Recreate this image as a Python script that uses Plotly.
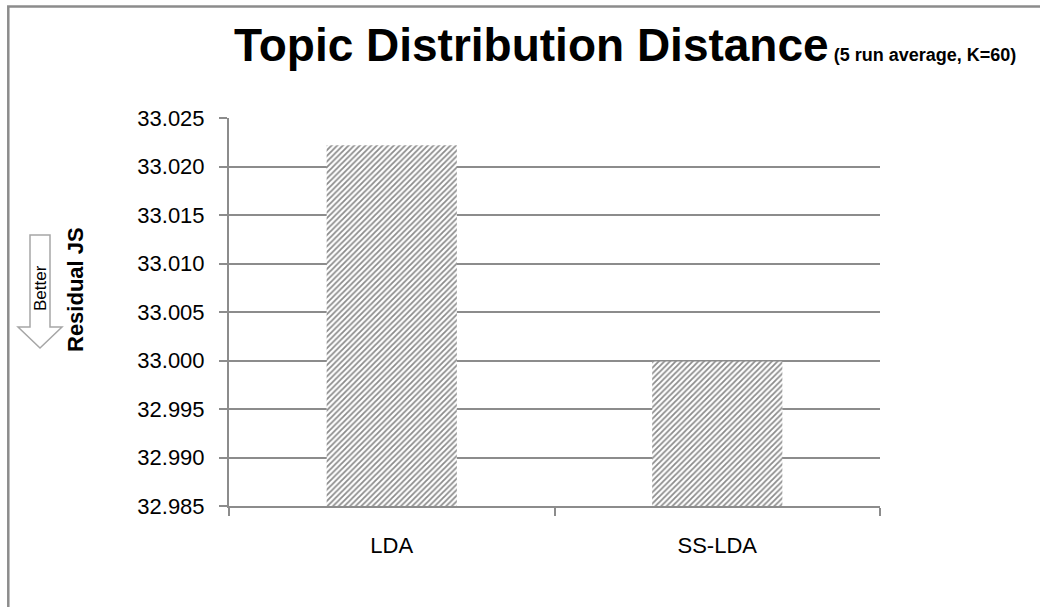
import plotly.graph_objects as go

# Data
categories = ["LDA", "SS-LDA"]
residual_js = [33.0222, 32.9999]
y_ticks = [32.985, 32.990, 32.995, 33.000, 33.005, 33.010, 33.015, 33.020, 33.025]

W, H = 1040, 607
ML, MR, MT, MB = 229, 160, 118, 101
PW, PH = W - ML - MR, H - MT - MB
FONT = "Liberation Sans"
GRAY = "#8c8c8c"


def px(x):
    return (x - ML) / PW


def py(y):
    return (H - MB - y) / PH


fig = go.Figure(
    go.Bar(
        x=categories,
        y=residual_js,
        marker=dict(
            color="white",
            line=dict(width=0),
            pattern=dict(shape="/", fgcolor="#1a1a1a", bgcolor="white",
                         size=4, solidity=0.45),
        ),
        hoverinfo="x+y",
    )
)

fig.update_layout(
    width=W, height=H,
    margin=dict(l=ML, r=MR, t=MT, b=MB),
    paper_bgcolor="white", plot_bgcolor="white",
    showlegend=False,
    bargap=0.6,
    font=dict(family=FONT, color="black"),
)

fig.update_yaxes(
    range=[y_ticks[0], y_ticks[-1] + 1e-7],
    tickvals=y_ticks,
    tickformat=".3f",
    tickfont=dict(size=22),
    ticklabelstandoff=10,
    showgrid=True, gridcolor=GRAY, gridwidth=1.5,
    showline=True, linecolor=GRAY, linewidth=2,
    ticks="outside", ticklen=8, tickcolor=GRAY, tickwidth=1.5,
    zeroline=False,
)
fig.update_xaxes(
    showline=True, linecolor=GRAY, linewidth=2,
    ticks="outside", ticklen=8, tickcolor=GRAY, tickwidth=1.5,
    tickson="boundaries",
    tickfont=dict(size=22),
    ticklabelstandoff=19,
)

# Chart-area border (left and top edges visible)
fig.add_shape(type="rect", xref="paper", yref="paper",
              x0=px(8.3), x1=px(1060), y0=py(620), y1=py(6.5),
              line=dict(color=GRAY, width=2.5), fillcolor="rgba(0,0,0,0)",
              layer="above")

# "Better" down arrow beside the axis title
arrow = [(30, 235), (50, 235), (50, 327), (62, 327), (40, 348),
         (18, 327), (30, 327)]
path = "M " + " L ".join(f"{px(x):.5f},{py(y):.5f}" for x, y in arrow) + " Z"
fig.add_shape(type="path", xref="paper", yref="paper", path=path,
              line=dict(color="#a6a6a6", width=1.5), fillcolor="white")
fig.add_annotation(xref="paper", yref="paper", x=px(40), y=py(288),
                   xanchor="center", yanchor="middle",
                   text="Better", textangle=-90, showarrow=False,
                   font=dict(size=17, family=FONT))

# Axis title
fig.add_annotation(xref="paper", yref="paper", x=px(75), y=py(290),
                   xanchor="center", yanchor="middle",
                   text="<b>Residual JS</b>", textangle=-90, showarrow=False,
                   font=dict(size=22, family=FONT))

# Title
fig.add_annotation(
    xref="paper", yref="paper", x=px(232), y=py(45),
    xanchor="left", yanchor="middle", showarrow=False,
    text="<b>Topic Distribution Distance</b>"
         "<b><span style='font-size:18px'> (5 run average, K=60)</span></b>",
    font=dict(size=46, family=FONT),
)

fig.write_html("out.html")
